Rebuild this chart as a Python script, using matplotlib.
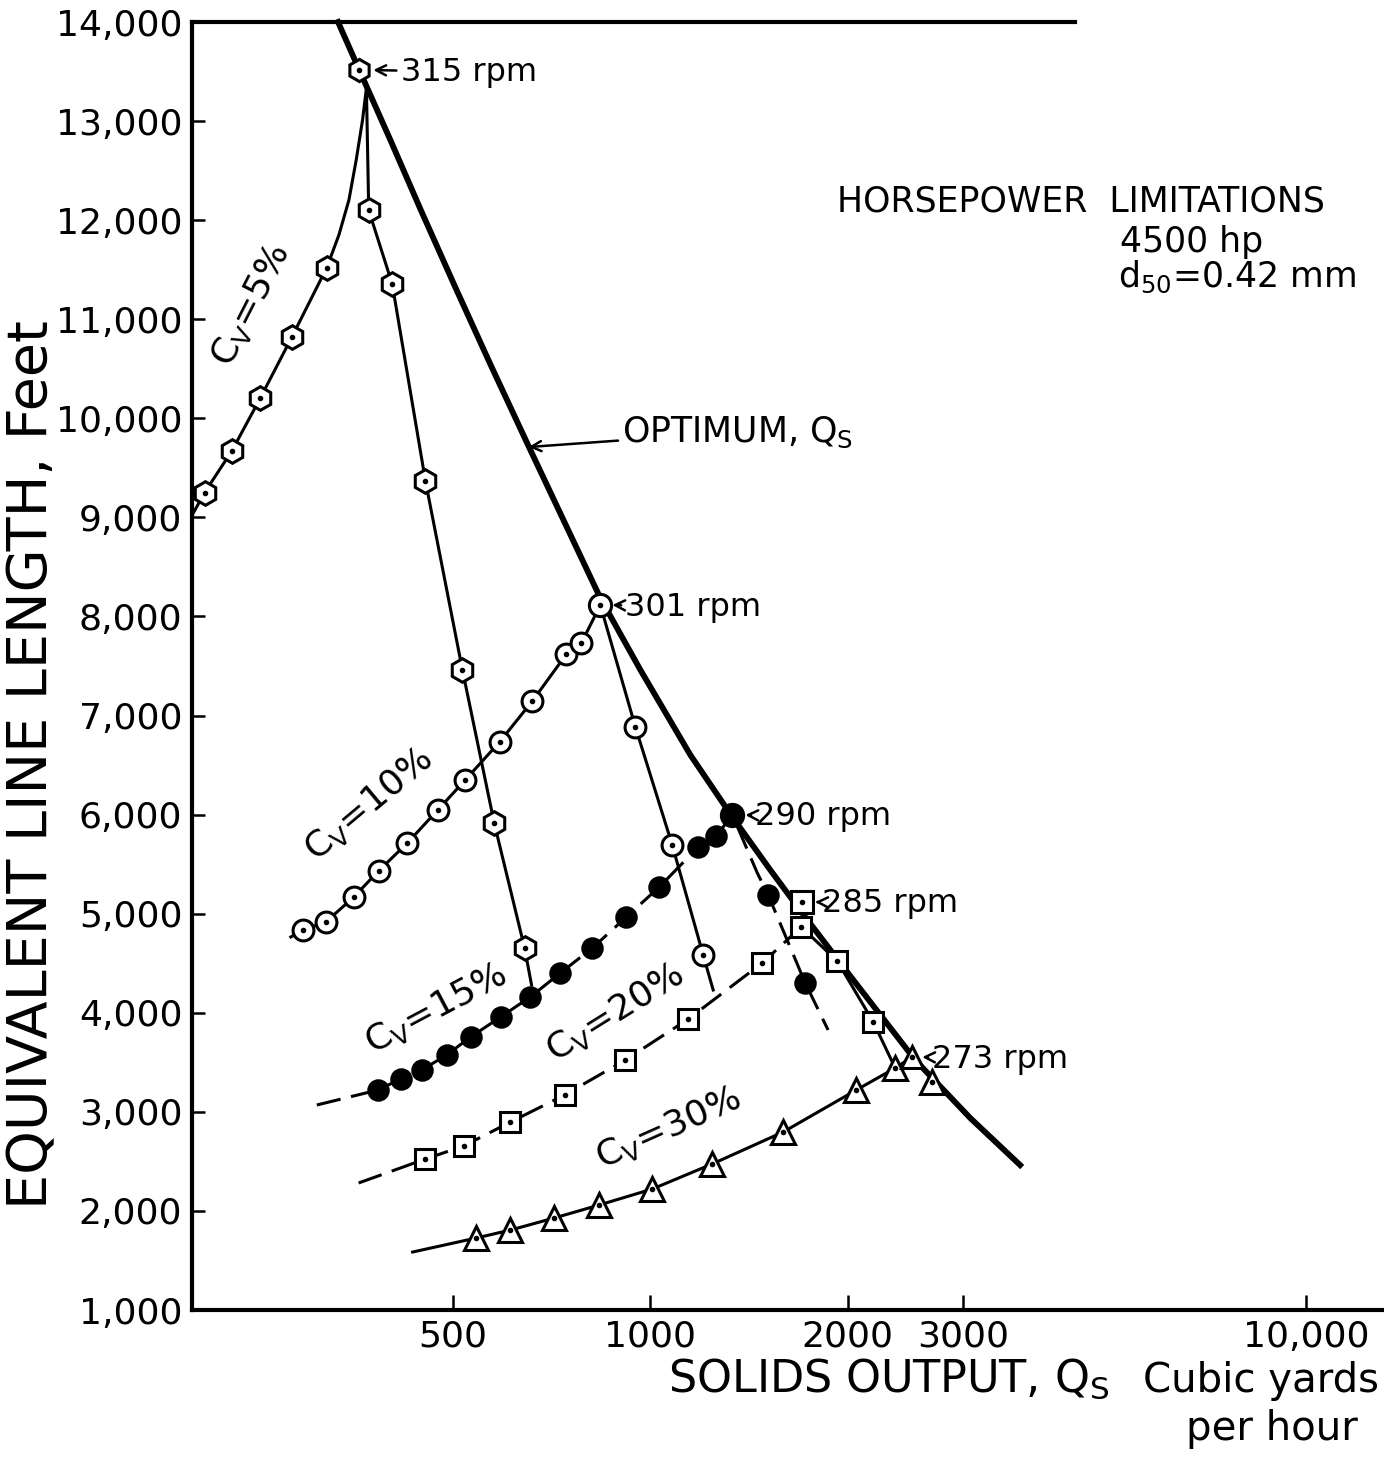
import numpy as np
import matplotlib.pyplot as plt

plt.rcParams['font.family'] = ['DejaVu Sans']
plt.rcParams['mathtext.default'] = 'regular'

# optimum solids output envelope (thick curve)
opt_q = [334, 361, 402, 446, 504, 570, 652, 742, 839, 966, 1151, 1334,
         1524, 1723, 2018, 2535, 3075, 3664]
opt_l = [14000, 13495, 12799, 12112, 11325, 10548, 9720, 8933, 8186, 7459,
         6602, 5976, 5441, 4966, 4371, 3523, 2938, 2463]

# Cv = 5 %
cv5_line_q = [200, 209, 230, 254, 284, 321, 335, 347, 356, 364, 369,
              372, 404, 454, 517, 578, 643, 659]
cv5_line_l = [9020, 9250, 9670, 10200, 10820, 11520, 11850, 12203, 12607, 13010, 13333,
              12100, 11355, 9367, 7459, 5915, 4654, 4280]
cv5_q = [209, 230, 254, 284, 321, 372, 404, 454, 517, 578, 643]
cv5_l = [9250, 9670, 10200, 10820, 11520, 12100, 11355, 9367, 7459, 5915, 4654]

# Cv = 10 %
cv10_line_q = [283, 295, 320, 353, 385, 426, 474, 522, 589, 661, 745, 785, 839,
               949, 1080, 1204, 1247]
cv10_line_l = [4765, 4835, 4916, 5168, 5431, 5713, 6046, 6349, 6733, 7147, 7621, 7732, 8115,
               6884, 5693, 4583, 4230]
cv10_q = [295, 320, 353, 385, 426, 474, 522, 589, 661, 745, 785, 949, 1080, 1204]
cv10_l = [4835, 4916, 5168, 5431, 5713, 6046, 6349, 6733, 7147, 7621, 7732, 6884, 5693, 4583]

# Cv = 15 %
cv15_line_q = [310, 384, 416, 448, 489, 532, 591, 656, 729, 816, 919, 1032, 1183, 1260, 1334,
               1456, 1513, 1723, 1867]
cv15_line_l = [3069, 3220, 3331, 3422, 3574, 3755, 3957, 4159, 4401, 4654, 4966, 5269, 5673,
               5784, 5996, 5411, 5188, 4300, 3826]
cv15_q = [384, 416, 448, 489, 532, 591, 656, 729, 816, 919, 1032, 1183, 1260, 1513, 1723]
cv15_l = [3220, 3331, 3422, 3574, 3755, 3957, 4159, 4401, 4654, 4966, 5269, 5673, 5784, 5188, 4300]

# Cv = 20 %
cv20_up_q = [359, 454, 519, 612, 740, 916, 1143, 1481, 1699]
cv20_up_l = [2282, 2524, 2655, 2897, 3170, 3523, 3937, 4502, 4866]
cv20_down_q = [1699, 1928, 2188, 2363]
cv20_down_l = [4866, 4522, 3907, 3442]
cv20_q = [454, 519, 612, 740, 916, 1143, 1481, 1699, 1928, 2188]
cv20_l = [2524, 2655, 2897, 3170, 3523, 3937, 4502, 4866, 4522, 3907]

# Cv = 30 %
cv30_line_q = [434, 543, 612, 714, 836, 1007, 1243, 1595, 2061, 2363, 2507]
cv30_line_l = [1585, 1727, 1807, 1929, 2060, 2221, 2474, 2797, 3220, 3442, 3553]
cv30_q = [543, 612, 714, 836, 1007, 1243, 1595, 2061, 2363, 2691]
cv30_l = [1727, 1807, 1929, 2060, 2221, 2474, 2797, 3220, 3442, 3301]

# pump speed at each optimum point
rpm_labels = ['315 rpm', '301 rpm', '290 rpm', '285 rpm', '273 rpm']
rpm_q = [359, 839, 1334, 1705, 2507]
rpm_l = [13515, 8115, 5996, 5118, 3553]
rpm_marker = ['h', 'o', 'o', 's', '^']
rpm_fill = ['white', 'white', 'black', 'white', 'white']

xticks = [500, 1000, 2000, 3000, 10000]
xtick_labels = ['500', '1000', '2000', '3000', '10,000']
yticks = list(range(1000, 15000, 1000))
ytick_labels = ['{:,}'.format(v) for v in yticks]

fig = plt.figure(figsize=(13.84, 14.63), dpi=100)
ax = fig.add_axes([192 / 1384, 153 / 1463, 1192 / 1384, 1288 / 1463])
ax.set_xscale('log')
ax.set_xlim(200, 13150)
ax.set_ylim(1000, 14000)

thin = 2.2
dash = (0, (8, 3.5))
ax.plot(opt_q, opt_l, color='black', lw=4.2, zorder=2, clip_on=False)
ax.plot(cv5_line_q, cv5_line_l, color='black', lw=thin, zorder=2)
ax.plot(cv10_line_q, cv10_line_l, color='black', lw=thin, zorder=2)
ax.plot(cv15_line_q, cv15_line_l, color='black', lw=thin, ls=dash, zorder=2)
ax.plot(cv20_up_q, cv20_up_l, color='black', lw=thin, ls=dash, zorder=2)
ax.plot(cv20_down_q, cv20_down_l, color='black', lw=thin, zorder=2)
ax.plot(cv30_line_q, cv30_line_l, color='black', lw=thin, zorder=2)

mk = dict(ls='none', color='black', mec='black', mew=2.2, zorder=4)
ax.plot(cv5_q, cv5_l, marker='h', ms=17, mfc='white', **mk)
ax.plot(cv10_q, cv10_l, marker='o', ms=15, mfc='white', **mk)
ax.plot(cv15_q, cv15_l, marker='o', ms=14, mfc='black', **mk)
ax.plot(cv20_q, cv20_l, marker='s', ms=14, mfc='white', **mk)
ax.plot(cv30_q, cv30_l, marker='^', ms=17, mfc='white', **mk)
for q, l, m, f in zip(rpm_q, rpm_l, rpm_marker, rpm_fill):
    ax.plot(q, l, marker=m, ms=16, mfc=f, **mk)

# centre dots of the open symbols
for qs, ls_ in [(cv5_q, cv5_l), (cv10_q, cv10_l), (cv20_q, cv20_l), (cv30_q, cv30_l)]:
    ax.plot(qs, ls_, ls='none', marker='o', ms=3, color='black', zorder=5)
open_q = [q for q, f in zip(rpm_q, rpm_fill) if f == 'white']
open_l = [l for l, f in zip(rpm_l, rpm_fill) if f == 'white']
ax.plot(open_q, open_l, ls='none', marker='o', ms=3, color='black', zorder=5)

# rpm callouts
arrow = dict(arrowstyle='->', lw=1.8, color='black', shrinkA=1, shrinkB=0,
             mutation_scale=18)
text_q = [416, 916, 1445, 1829, 2691]
tip_q = [378, 875, 1396, 1784, 2598]
for lab, q, l, tq, pq in zip(rpm_labels, rpm_q, rpm_l, text_q, tip_q):
    ax.annotate(lab, xy=(pq, l), xytext=(tq, l - 20), fontsize=23,
                va='center', ha='left', arrowprops=arrow, zorder=6)

ax.annotate('OPTIMUM, $Q_S$', xy=(652, 9710), xytext=(906, 9862), fontsize=25,
            va='center', ha='left', arrowprops=arrow)

# Cv labels along each family
cv_text = [('$C_V$=5%', 246, 11143, 63), ('$C_V$=10%', 372, 6100, 40),
           ('$C_V$=15%', 470, 4040, 28), ('$C_V$=20%', 884, 4000, 32),
           ('$C_V$=30%', 1065, 2840, 24)]
for s, q, l, rot in cv_text:
    ax.text(q, l, s, fontsize=26, rotation=rot, ha='center', va='center',
            rotation_mode='anchor')

ax.spines['top'].set_visible(False)
ax.spines['right'].set_visible(False)
ax.spines['left'].set_linewidth(3)
ax.spines['bottom'].set_linewidth(3)
ax.plot([200, 4450], [14000, 14000], color='black', lw=3, clip_on=False)

ax.set_xticks(xticks)
ax.set_xticklabels(xtick_labels)
ax.xaxis.set_minor_locator(plt.NullLocator())
ax.set_yticks(yticks)
ax.set_yticklabels(ytick_labels)
ax.tick_params(axis='y', direction='in', length=9, width=1.8, labelsize=26, pad=7)
ax.tick_params(axis='x', direction='in', length=11, width=1.8, labelsize=26, pad=7)

fig.text(32 / 1384, 1 - 765 / 1463, 'EQUIVALENT LINE LENGTH, Feet', fontsize=40,
         rotation=90, ha='center', va='center')
fig.text(668 / 1384, 1 - 1392 / 1463, 'SOLIDS OUTPUT, $Q_S$', fontsize=32,
         ha='left', va='baseline')
fig.text(1143 / 1384, 1 - 1392 / 1463, 'Cubic yards', fontsize=29,
         ha='left', va='baseline')
fig.text(1272 / 1384, 1 - 1440 / 1463, 'per hour', fontsize=29,
         ha='center', va='baseline')

fig.text(837 / 1384, 1 - 212 / 1463, 'HORSEPOWER  LIMITATIONS', fontsize=25,
         ha='left', va='baseline')
fig.text(1120 / 1384, 1 - 252 / 1463, '4500 hp', fontsize=25,
         ha='left', va='baseline')
fig.text(1118 / 1384, 1 - 287 / 1463, '$d_{50}$=0.42 mm', fontsize=25,
         ha='left', va='baseline')

fig.savefig('out.png', dpi=100)
